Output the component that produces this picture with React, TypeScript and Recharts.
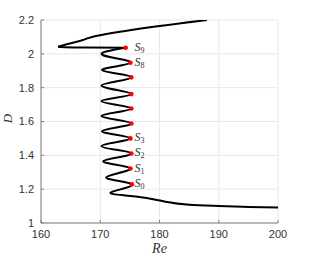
import React from "react";
import {
  CartesianGrid,
  ComposedChart,
  Line,
  Scatter,
  XAxis,
  YAxis,
} from "recharts";

// Snaking solution branch D(Re) with the saddle-node points S0..S9 in red.

const X_TICKS = [160, 170, 180, 190, 200];
const Y_TICKS = [1, 1.2, 1.4, 1.6, 1.8, 2, 2.2];

// upper arm, from the top right down to the sharp tip near Re = 163
const UPPER_RE = [188, 180, 170.2, 167.1, 165.5, 162.9];
const UPPER_D = [2.2, 2.164, 2.111, 2.082, 2.067, 2.042];

// flat lower arm, tip back to S9
const LOWER_RE = [162.9, 164, 168, 174.3];
const LOWER_D = [2.042, 2.039, 2.037, 2.036];

// right turning points S0..S9
const S_RE = [175.35, 175.1, 175.25, 175.1, 175.25, 175.25, 175.25, 175.25, 175.1, 174.3];
const S_D = [1.229, 1.322, 1.411, 1.5, 1.588, 1.677, 1.762, 1.861, 1.947, 2.036];
const S_LABELED = [0, 1, 2, 3, 8, 9];
const LABEL_RE = 175.8;

// left turning points, top (between S9 and S8) to bottom (below S0)
const LEFT_RE = [170.4, 170.3, 170.2, 170.2, 170.2, 170.3, 170.2, 170.5, 171.0, 171.9];
const LEFT_D = [1.993, 1.904, 1.812, 1.72, 1.632, 1.543, 1.454, 1.365, 1.27, 1.183];

// tail leaving to the right
const TAIL_RE = [174.2, 177.5, 181, 185, 190, 195, 200];
const TAIL_D = [1.163, 1.149, 1.126, 1.108, 1.101, 1.095, 1.091];

const pts = (re: number[], d: number[]) => re.map((r, i) => ({ re: r, d: d[i] }));

const upper = pts(UPPER_RE, UPPER_D);
const lower = pts(LOWER_RE, LOWER_D);
const snake: { re: number; d: number }[] = [];
for (let k = S_RE.length - 1; k >= 0; k--) {
  snake.push({ re: S_RE[k], d: S_D[k] });
  const j = S_RE.length - 1 - k;
  snake.push({ re: LEFT_RE[j], d: LEFT_D[j] });
}
snake.push(...pts(TAIL_RE, TAIL_D));
const sPoints = pts(S_RE, S_D);
const sLabels = S_LABELED.map((i) => ({ re: LABEL_RE, d: S_D[i], name: String(i) }));

const AXIS = "#808080";
const TICK = { fill: "#333", fontSize: 11, fontFamily: "Liberation Sans, Arial, sans-serif" };
const SERIF = "Liberation Serif, Times New Roman, serif";
const fmt = (v: number) => String(+Number(v).toFixed(1));
const noTick = () => <g />;

export default function App() {
  return (
    <div style={{ position: "absolute", left: 0, top: 0 }}>
      <ComposedChart width={309} height={258} margin={{ top: 20, right: 31, bottom: 0, left: 0 }}>
        <CartesianGrid stroke="#e8e8e8" />
        <XAxis
          type="number"
          dataKey="re"
          domain={[160, 200]}
          ticks={X_TICKS}
          allowDataOverflow
          height={35}
          stroke={AXIS}
          tick={TICK}
          tickSize={-3}
          tickMargin={10}
          label={{
            content: ({ viewBox }: any) => (
              <text
                x={viewBox.x + viewBox.width / 2}
                y={viewBox.y + viewBox.height - 5}
                textAnchor="middle"
                fontFamily={SERIF}
                fontStyle="italic"
                fontSize={14}
                fill="#333"
              >
                Re
              </text>
            ),
          }}
        />
        <XAxis
          xAxisId="top"
          orientation="top"
          type="number"
          domain={[160, 200]}
          ticks={X_TICKS}
          height={0}
          stroke={AXIS}
          tick={noTick}
          tickSize={-3}
        />
        <YAxis
          type="number"
          dataKey="d"
          domain={[1, 2.2]}
          ticks={Y_TICKS}
          allowDataOverflow
          width={41}
          stroke={AXIS}
          tick={TICK}
          tickFormatter={fmt}
          tickSize={-3}
          tickMargin={10}
          label={{
            content: ({ viewBox }: any) => {
              const x = viewBox.x + 12;
              const y = viewBox.y + viewBox.height / 2 - 3;
              return (
                <text
                  x={x}
                  y={y}
                  transform={`rotate(-90 ${x} ${y})`}
                  textAnchor="middle"
                  fontFamily={SERIF}
                  fontStyle="italic"
                  fontSize={13}
                  fill="#333"
                >
                  D
                </text>
              );
            },
          }}
        />
        <YAxis
          yAxisId="right"
          orientation="right"
          type="number"
          domain={[1, 2.2]}
          ticks={Y_TICKS}
          width={0}
          stroke={AXIS}
          tick={noTick}
          tickSize={-3}
        />
        <Line data={upper} dataKey="d" type="natural" stroke="#000" strokeWidth={2} dot={false} isAnimationActive={false} />
        <Line data={lower} dataKey="d" type="natural" stroke="#000" strokeWidth={2} dot={false} isAnimationActive={false} />
        <Line data={snake} dataKey="d" type="natural" stroke="#000" strokeWidth={2} dot={false} isAnimationActive={false} />
        <Scatter
          data={sPoints}
          dataKey="d"
          isAnimationActive={false}
          shape={(p: any) => <circle cx={p.cx} cy={p.cy} r={2.3} fill="#ff0000" />}
        />
        <Scatter
          data={sLabels}
          dataKey="d"
          isAnimationActive={false}
          shape={(p: any) => (
            <text
              x={p.cx}
              y={p.cy}
              dominantBaseline="middle"
              fontFamily={SERIF}
              fontSize={12}
              fill="#333"
            >
              <tspan fontStyle="italic">S</tspan>
              <tspan fontSize={8} dy={3}>
                {p.payload.name}
              </tspan>
            </text>
          )}
        />
      </ComposedChart>
    </div>
  );
}
